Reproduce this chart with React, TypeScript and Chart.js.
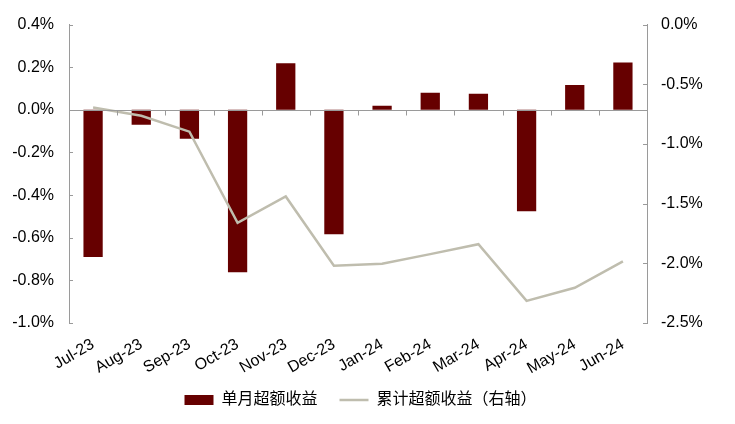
import React, { useEffect, useRef } from "react";
import { Chart, registerables } from "chart.js";

Chart.register(...registerables);

const categories = ["Jul-23", "Aug-23", "Sep-23", "Oct-23", "Nov-23", "Dec-23", "Jan-24", "Feb-24", "Mar-24", "Apr-24", "May-24", "Jun-24"];
const monthlyExcess = [-0.69, -0.07, -0.136, -0.762, 0.219, -0.584, 0.019, 0.08, 0.076, -0.476, 0.117, 0.222];
const cumulativeExcess = [-0.695, -0.764, -0.897, -1.661, -1.44, -2.02, -2.003, -1.923, -1.84, -2.315, -2.205, -1.984];
const seriesNames = ["单月超额收益", "累计超额收益（右轴）"];
const leftTicks = { min: -1.0, max: 0.4, step: 0.2 };
const rightTicks = { min: -2.5, max: 0.0, step: 0.5 };

const FONT = "'Liberation Sans', Arial, 'Noto Sans CJK SC', sans-serif";
const AXIS = "#9a9a9a";

const fmt = (v: any) => {
  let r = Math.round(Number(v) * 10) / 10;
  if (Object.is(r, -0) || Math.abs(r) < 1e-9) r = 0;
  return r.toFixed(1) + "%";
};

const axisPlugin = {
  id: "axisDecor",
  afterLayout(chart: any) {
    chart.scales.x.bottom = chart.height;
  },
  afterDatasetsDraw(chart: any) {
    const { ctx, chartArea, scales } = chart;
    const x = scales.x;
    const y = scales.y;
    const y1 = scales.y1;
    ctx.save();
    ctx.strokeStyle = AXIS;
    ctx.lineWidth = 1;
    const zeroY = Math.round(y.getPixelForValue(0)) + 0.5;
    ctx.beginPath();
    ctx.moveTo(chartArea.left, zeroY);
    ctx.lineTo(chartArea.right, zeroY);
    const n = categories.length;
    for (let i = 1; i < n; i++) {
      const px = Math.round((x.getPixelForValue(i - 1) + x.getPixelForValue(i)) / 2) + 0.5;
      ctx.moveTo(px, zeroY);
      ctx.lineTo(px, zeroY + 5);
    }
    for (let v = leftTicks.min; v <= leftTicks.max + 1e-9; v += leftTicks.step) {
      const py = Math.round(y.getPixelForValue(v)) + 0.5;
      ctx.moveTo(chartArea.left, py);
      ctx.lineTo(chartArea.left + 4, py);
    }
    for (let v = rightTicks.min; v <= rightTicks.max + 1e-9; v += rightTicks.step) {
      const py = Math.round(y1.getPixelForValue(v)) + 0.5;
      ctx.moveTo(chartArea.right, py);
      ctx.lineTo(chartArea.right - 4, py);
    }
    ctx.stroke();
    ctx.restore();
  },
};

export default function App() {
  const ref = useRef<HTMLCanvasElement | null>(null);
  useEffect(() => {
    if (!ref.current) return;
    const chart = new Chart(ref.current, {
      type: "bar",
      data: {
        labels: categories,
        datasets: [
          {
            type: "line",
            label: seriesNames[1],
            data: cumulativeExcess,
            yAxisID: "y1",
            borderColor: "#bfbdae",
            backgroundColor: "#bfbdae",
            borderWidth: 2.5,
            pointRadius: 0,
            tension: 0,
            order: 0,
          } as any,
          {
            type: "bar",
            label: seriesNames[0],
            data: monthlyExcess,
            yAxisID: "y",
            backgroundColor: "#660000",
            borderColor: "#660000",
            borderWidth: 0,
            barPercentage: 0.4,
            categoryPercentage: 1,
            order: 1,
          },
        ],
      },
      options: {
        animation: false,
        responsive: true,
        maintainAspectRatio: false,
        layout: { padding: { top: 21, bottom: 6, left: 0, right: 14 } },
        plugins: {
          tooltip: { enabled: false },
          legend: {
            position: "bottom",
            labels: {
              usePointStyle: true,
              pointStyleWidth: 29,
              boxHeight: 10,
              padding: 22,
              color: "#000",
              font: { family: FONT, size: 16 },
              generateLabels(chart: any) {
                const items = Chart.defaults.plugins.legend.labels.generateLabels(chart);
                const out = items.map((it: any) => {
                  if (it.datasetIndex === 0) {
                    return { ...it, pointStyle: "line", lineWidth: 2.5, strokeStyle: "#bfbdae" };
                  }
                  return { ...it, pointStyle: "rect", lineWidth: 0, fillStyle: "#660000" };
                });
                return [out[1], out[0]];
              },
            },
          },
        },
        scales: {
          x: {
            type: "category",
            offset: true,
            grid: { display: false },
            border: { display: false },
            ticks: {
              minRotation: 30,
              maxRotation: 30,
              padding: 4,
              color: "#000",
              font: { family: FONT, size: 16 },
            },
            afterFit(scale: any) {
              scale.height = 47;
            },
          },
          y: {
            position: "left",
            min: leftTicks.min,
            max: leftTicks.max,
            grid: { display: false, drawTicks: false },
            border: { display: true, color: AXIS },
            ticks: {
              stepSize: leftTicks.step,
              padding: 15,
              color: "#000",
              font: { family: FONT, size: 16 },
              callback: fmt,
            },
            afterFit(scale: any) {
              scale.width = 69;
            },
          },
          y1: {
            position: "right",
            min: rightTicks.min,
            max: rightTicks.max,
            grid: { display: false, drawTicks: false },
            border: { display: true, color: AXIS },
            ticks: {
              stepSize: rightTicks.step,
              padding: 14,
              color: "#000",
              font: { family: FONT, size: 16 },
              callback: fmt,
            },
            afterFit(scale: any) {
              scale.width = 74;
            },
          },
        },
      },
      plugins: [axisPlugin],
    });
    return () => chart.destroy();
  }, []);
  return (
    <div style={{ position: "fixed", left: 0, top: 0, width: 735, height: 424, background: "#fff" }}>
      <canvas ref={ref} />
    </div>
  );
}
